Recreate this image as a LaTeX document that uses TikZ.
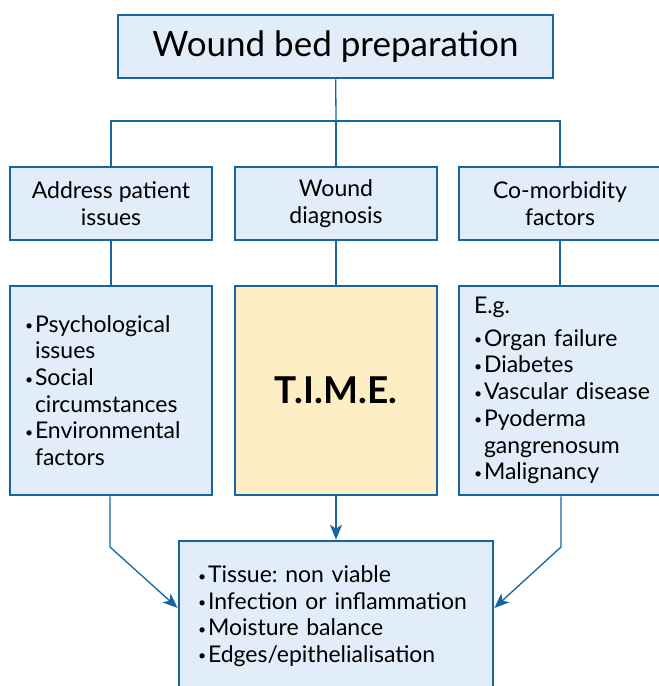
\documentclass[tikz,border=0pt]{standalone}
\usepackage{fontspec}
\setmainfont{Lato}
\usetikzlibrary{arrows.meta}

\definecolor{wbblue}{HTML}{1565A0}
\definecolor{wbfill}{HTML}{E1EEF9}
\definecolor{wbyellow}{HTML}{FDEEC4}

\newcommand{\bul}{\makebox[10pt][l]{\raisebox{1.5pt}{\fontsize{14}{14}\selectfont\textbullet}}}
\newcommand{\ind}{\hspace*{10pt}}
\frenchspacing

\begin{document}
\begin{tikzpicture}[x=1pt,y=-1pt]

\tikzset{box/.style = {shape=rectangle,draw=wbblue,fill=wbfill,line width=2.6pt,inner sep=0pt}}
\tikzset{head/.style = {box,minimum width=202pt,minimum height=73pt,align=center,font=\fontsize{23}{26.5}\selectfont}}
\tikzset{list/.style = {box,minimum width=202pt,minimum height=209pt,text width=172pt,align=left,font=\fontsize{23}{26.7}\selectfont}}
\tikzset{line/.style = {draw=wbblue,line width=1.3pt}}
\tikzset{edge/.style = {line,-{Stealth[length=15pt,width=12pt,inset=4pt]}}}

\useasboundingbox (0,0) rectangle (659,686);

\node[box,minimum width=435pt,minimum height=63pt,font=\fontsize{35}{40}\selectfont] (title) at (335.5,46.5) {Wound bed preparation};

\node[head] (patient) at (111,203.5) {Address patient\\issues};
\node[head] (diag) at (336,203.5) {Wound\\diagnosis};
\node[head] (comorb) at (560,203.5) {Co-morbidity\\factors};

\node[list] (psych) at (111,390.5) {\bul Psychological\\\ind issues\\\bul Social\\\ind circumstances\\\bul Environmental\\\ind factors};
\node[list,fill=wbyellow,align=center,font=\fontsize{37}{40}\selectfont\bfseries] (time) at (336,390.5) {T.I.M.E.};
\node[list] (factors) at (560,390.5) {E.g.\\[6pt]\bul\mbox{Organ failure}\\\bul\mbox{Diabetes}\\\bul\mbox{Vascular disease}\\\bul\mbox{Pyoderma}\\\ind\mbox{gangrenosum}\\\bul\mbox{Malignancy}};

\node[box,minimum width=314pt,minimum height=150pt,text width=276pt,align=left,font=\fontsize{23}{26.5}\selectfont] (tasks) at (336,616) {\bul\mbox{Tissue: non viable}\\\bul\mbox{Infection or inflammation}\\\bul\mbox{Moisture balance}\\\bul\mbox{Edges/epithelialisation}};

\coordinate (split) at (336,121);
\coordinate (lbend) at (110,547);
\coordinate (rbend) at (561,547);

\draw[line] (title) to (split);
\draw[line] (split) -| (patient);
\draw[line] (split) to (diag);
\draw[line] (split) -| (comorb);

\draw[line] (patient) to (psych);
\draw[line] (diag) to (time);
\draw[line] (comorb) to (factors);

\draw[edge] (time) to (tasks);
\draw[edge] (psych.south -| lbend) -- (lbend) -- ([yshift=8pt]tasks.west);
\draw[edge] (factors.south -| rbend) -- (rbend) -- ([yshift=8pt]tasks.east);

\end{tikzpicture}
\end{document}
